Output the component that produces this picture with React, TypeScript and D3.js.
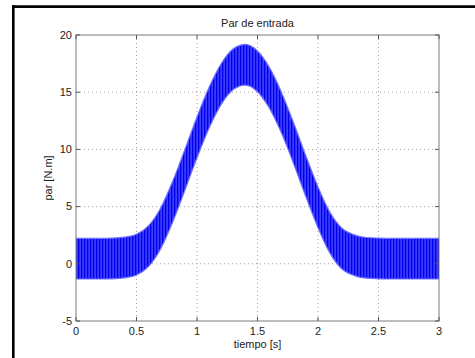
import React from "react";
import * as d3 from "d3";

// readings, every 0.1 s
const timeS = [
  0, 0.1, 0.2, 0.3, 0.4, 0.5, 0.6, 0.7, 0.8, 0.9, 1.0, 1.1, 1.2, 1.3, 1.4, 1.5,
  1.6, 1.7, 1.8, 1.9, 2.0, 2.1, 2.2, 2.3, 2.4, 2.5, 2.6, 2.7, 2.8, 2.9, 3.0,
];
// upper edge of the oscillating band [N.m]
const upperEnv = [
  2.23, 2.23, 2.23, 2.25, 2.33, 2.58, 3.33, 4.88, 7.23, 9.99, 12.83, 15.43,
  17.49, 18.79, 19.18, 18.6, 17.13, 14.94, 12.27, 9.42, 6.72, 4.47, 3.08, 2.53,
  2.3, 2.25, 2.23, 2.23, 2.23, 2.23, 2.23,
];
// lower edge of the oscillating band [N.m]
const lowerEnv = [
  -1.33, -1.33, -1.33, -1.31, -1.23, -0.98, -0.23, 1.32, 3.67, 6.43, 9.27,
  11.87, 13.93, 15.23, 15.62, 15.04, 13.57, 11.38, 8.71, 5.86, 3.16, 0.91,
  -0.48, -1.03, -1.26, -1.31, -1.33, -1.33, -1.33, -1.33, -1.33,
];
const xTicks = [0, 0.5, 1, 1.5, 2, 2.5, 3];
const yTicks = [-5, 0, 5, 10, 15, 20];

const W = 475;
const H = 358;
const plot = { left: 76, right: 439, top: 35, bottom: 321 };
const font = "'Liberation Sans', Arial, Helvetica, sans-serif";

type Pt = { t: number; hi: number; lo: number };

export default function App() {
  const x = d3.scaleLinear().domain([0, 3]).range([plot.left, plot.right]);
  const y = d3.scaleLinear().domain([-5, 20]).range([plot.bottom, plot.top]);

  const pts: Pt[] = timeS.map((t, i) => ({ t, hi: upperEnv[i], lo: lowerEnv[i] }));

  const band = d3
    .area<Pt>()
    .x((d) => x(d.t))
    .y0((d) => y(d.lo))
    .y1((d) => y(d.hi))
    .curve(d3.curveMonotoneX);
  const hiLine = d3
    .line<Pt>()
    .x((d) => x(d.t))
    .y((d) => y(d.hi))
    .curve(d3.curveMonotoneX);
  const loLine = d3
    .line<Pt>()
    .x((d) => x(d.t))
    .y((d) => y(d.lo))
    .curve(d3.curveMonotoneX);

  const pw = plot.right - plot.left;
  const ph = plot.bottom - plot.top;
  const cx = (plot.left + plot.right) / 2;
  const cy = (plot.top + plot.bottom) / 2;

  return (
    <svg
      width={W}
      height={H}
      style={{ position: "absolute", left: 0, top: 0, background: "#fff" }}
      fontFamily={font}
    >
      <defs>
        <clipPath id="plotClip">
          <rect x={plot.left} y={plot.top} width={pw} height={ph} />
        </clipPath>
        <pattern id="osc" patternUnits="userSpaceOnUse" width={3} height={4}>
          <rect width={3} height={4} fill="#3c3cff" />
          <rect width={1.3} height={4} fill="#0000ee" />
        </pattern>
      </defs>

      {/* outer frame */}
      <line x1={13.3} x2={13.3} y1={5.3} y2={H} stroke="#000" strokeWidth={2.6} />
      <line x1={12} x2={W} y1={6.6} y2={6.6} stroke="#000" strokeWidth={2.6} />

      {/* grid */}
      <g stroke="#a0a0a0" strokeWidth={1} strokeDasharray="1,3">
        {xTicks.slice(1, -1).map((t) => (
          <line key={"gx" + t} x1={x(t)} x2={x(t)} y1={plot.top} y2={plot.bottom} />
        ))}
        {yTicks.slice(1, -1).map((v) => (
          <line key={"gy" + v} x1={plot.left} x2={plot.right} y1={y(v)} y2={y(v)} />
        ))}
      </g>

      {/* signal */}
      <g clipPath="url(#plotClip)">
        <path d={band(pts) ?? ""} fill="url(#osc)" />
        <path d={hiLine(pts) ?? ""} fill="none" stroke="#7070ff" strokeWidth={1.2} />
        <path d={loLine(pts) ?? ""} fill="none" stroke="#7070ff" strokeWidth={1.2} />
      </g>

      {/* axes box */}
      <rect
        x={plot.left}
        y={plot.top}
        width={pw}
        height={ph}
        fill="none"
        stroke="#7a7a7a"
        strokeWidth={1}
      />

      {/* ticks */}
      <g stroke="#555" strokeWidth={1}>
        {xTicks.map((t) => (
          <g key={"tx" + t}>
            <line x1={x(t)} x2={x(t)} y1={plot.bottom} y2={plot.bottom - 4} />
            <line x1={x(t)} x2={x(t)} y1={plot.top} y2={plot.top + 4} />
          </g>
        ))}
        {yTicks.map((v) => (
          <g key={"ty" + v}>
            <line x1={plot.left} x2={plot.left + 4} y1={y(v)} y2={y(v)} />
            <line x1={plot.right} x2={plot.right - 4} y1={y(v)} y2={y(v)} />
          </g>
        ))}
      </g>

      <g fontSize={11} fill="#222">
        {xTicks.map((t) => (
          <text key={"lx" + t} x={x(t)} y={334.5} textAnchor="middle">
            {String(t)}
          </text>
        ))}
        {yTicks.map((v) => (
          <text
            key={"ly" + v}
            x={plot.left - 4}
            y={y(v)}
            dy="0.35em"
            textAnchor="end"
          >
            {String(v)}
          </text>
        ))}
        <text x={cx} y={27} textAnchor="middle">
          Par de entrada
        </text>
        <text x={cx} y={347.5} textAnchor="middle">
          tiempo [s]
        </text>
        <text
          transform={`translate(52,${cy}) rotate(-90)`}
          textAnchor="middle"
        >
          par [N.m]
        </text>
      </g>
    </svg>
  );
}
